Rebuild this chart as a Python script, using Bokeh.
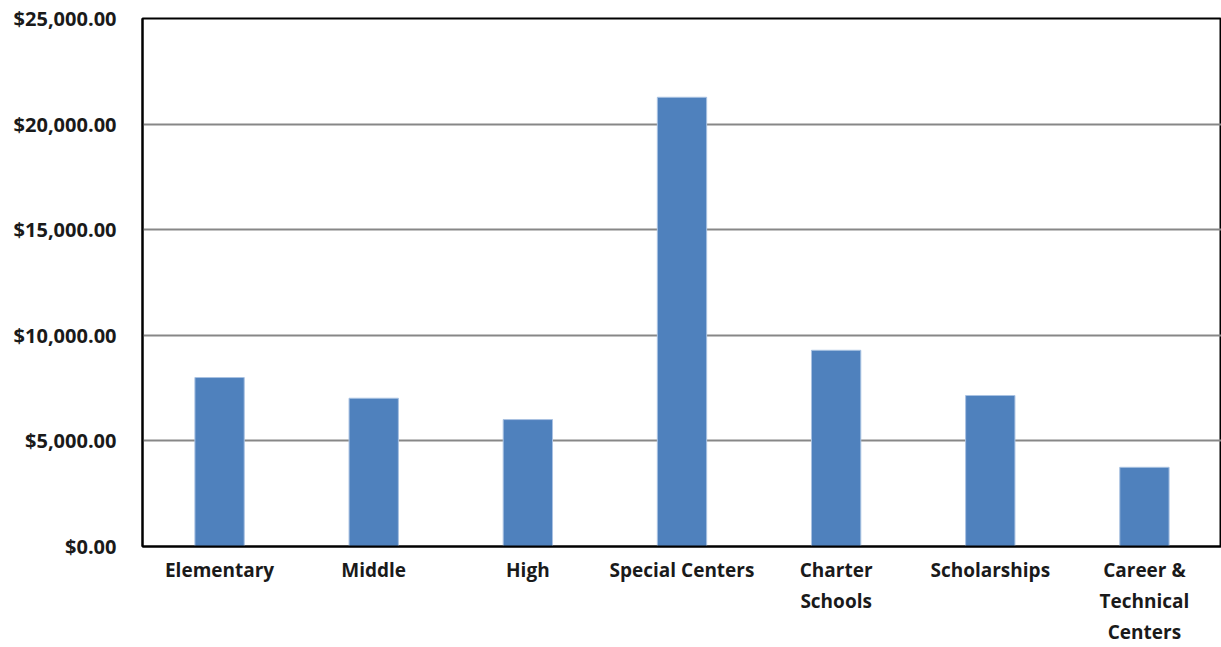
from bokeh.plotting import figure
from bokeh.models import NumeralTickFormatter, Range1d, FactorRange
from bokeh.embed import file_html
from bokeh.resources import INLINE

categories = ["Elementary", "Middle", "High", "Special Centers", "Charter Schools",
              "Scholarships", "Career & Technical Centers"]
tick_labels = ["Elementary", "Middle", "High", "Special Centers", "Charter\nSchools",
               "Scholarships", "Career &\nTechnical\nCenters"]
values = [8000, 7020, 6010, 21270, 9290, 7150, 3750]

FONT = "Open Sans"

label_of = dict(zip(categories, tick_labels))
factors = [label_of[c] for c in categories]

p = figure(x_range=FactorRange(*factors, range_padding=0), width=1221, height=647,
           output_backend="svg", toolbar_location=None,
           min_border_left=142, min_border_right=0, min_border_top=18, min_border_bottom=101)
p.y_range = Range1d(0, 25000)

p.vbar(x=factors, top=values, width=0.32, fill_color="#4F81BD",
       line_color="#A9C2E2", line_width=1)

p.yaxis.formatter = NumeralTickFormatter(format="$0,0.00")
p.yaxis.ticker = [0, 5000, 10000, 15000, 20000, 25000]

for ax in (p.xaxis, p.yaxis):
    ax.axis_line_color = "black"
    ax.axis_line_width = 2
    ax.major_tick_line_color = None
    ax.minor_tick_line_color = None
    ax.major_label_text_font = FONT
    ax.major_label_text_font_style = "bold"
    ax.major_label_text_color = "#1a1a1a"

p.xaxis.major_label_text_font_size = "19px"
p.yaxis.major_label_text_font_size = "20px"
p.xaxis.major_label_standoff = 4
p.xaxis.major_label_orientation = "horizontal"
p.yaxis.major_label_standoff = 20

p.xgrid.grid_line_color = None
p.ygrid.grid_line_color = "#878787"
p.ygrid.grid_line_width = 2

p.outline_line_color = "black"
p.outline_line_width = 2
p.background_fill_color = "white"
p.border_fill_color = "white"

open("out.html", "w").write(file_html(p, INLINE))
